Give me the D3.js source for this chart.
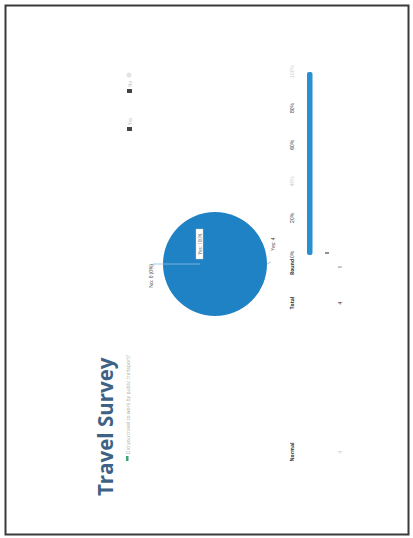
<!DOCTYPE html>
<html>
<head>
<meta charset="utf-8">
<script src="https://cdn.jsdelivr.net/npm/d3@7"></script>
<style>
  body { margin: 0; background: #fff; }
  svg { display: block; font-family: "Open Sans", "Noto Sans", sans-serif; }
</style>
</head>
<body>
<div id="chart"></div>
<script>
// data
const title = 'Travel Survey';
const subtitle = 'Did you travel to work by public transport?';
const pieLabels = ['No', 'Yes'];
const pieValues = [0, 4];
const barCats = ['Yes'];
const barValues = [1.0];
const pctTicks = [0, 0.2, 0.4, 0.6, 0.8, 1];
const tableHeads = ['Normal', 'Total', 'Round'];
const tableVals = ['4', '4', '1'];
const legendItems = ['No', 'Yes'];

const W = 413, H = 538;
const svg = d3.select('#chart').append('svg')
  .attr('width', W).attr('height', H);

// scanned page frame
svg.append('rect')
  .attr('x', 5.5).attr('y', 5.5)
  .attr('width', 403).attr('height', 529)
  .attr('fill', 'none')
  .attr('stroke', '#3a3a3a')
  .attr('stroke-width', 2);

// the page content is landscape, turned a quarter left
const g = svg.append('g')
  .attr('transform', `translate(0,${H}) rotate(-90)`);

// title block
g.append('text')
  .attr('x', 42).attr('y', 113)
  .attr('font-size', 20.5)
  .attr('font-weight', 700)
  .attr('fill', '#3e6285')
  .text(title);

g.append('rect')
  .attr('x', 77).attr('y', 126)
  .attr('width', 5).attr('height', 2.5)
  .attr('fill', '#3aa57a');

g.append('text')
  .attr('x', 84).attr('y', 130)
  .attr('font-size', 5)
  .attr('fill', '#aaa')
  .text(subtitle);

// pie
const cx = 274, cy = 215, r = 52;
const pieG = g.append('g').attr('transform', `translate(${cx},${cy})`);
const arcs = d3.pie().sort(null)(pieValues);
const arc = d3.arc().innerRadius(0).outerRadius(r);

pieG.selectAll('path')
  .data(arcs)
  .join('path')
  .attr('d', arc)
  .attr('fill', '#1f82c5');

// leader from the empty slice up to its label
pieG.append('line')
  .attr('x1', 0).attr('y1', -15)
  .attr('x2', 0).attr('y2', -r - 10)
  .attr('stroke', '#8cc0e4')
  .attr('stroke-width', 0.8);

pieG.append('text')
  .attr('x', -12).attr('y', -r - 10)
  .attr('text-anchor', 'middle')
  .attr('font-size', 5)
  .attr('fill', '#444')
  .text(`${pieLabels[0]}: ${pieValues[0]} (0%)`);

// data label box inside the big slice
const box = pieG.append('g').attr('transform', 'translate(20,-15)');
box.append('rect')
  .attr('x', -15).attr('y', -4)
  .attr('width', 30).attr('height', 7)
  .attr('fill', '#fff')
  .attr('stroke', '#ccc')
  .attr('stroke-width', 0.4);
box.append('text')
  .attr('y', 1.8)
  .attr('text-anchor', 'middle')
  .attr('font-size', 4.5)
  .attr('fill', '#555')
  .text(`${pieLabels[1]}: 100%`);

pieG.append('line')
  .attr('x1', 0).attr('y1', r)
  .attr('x2', 2).attr('y2', r + 4)
  .attr('stroke', '#999')
  .attr('stroke-width', 0.6);
pieG.append('text')
  .attr('x', 20).attr('y', r + 8)
  .attr('text-anchor', 'middle')
  .attr('font-size', 5)
  .attr('fill', '#444')
  .text(`${pieLabels[1]}: ${pieValues[1]}`);

// legend, top right
legendItems.forEach((d, i) => {
  const lx = 445 - i * 38;
  g.append('rect')
    .attr('x', lx).attr('y', 127)
    .attr('width', 4).attr('height', 5)
    .attr('fill', '#444');
  g.append('text')
    .attr('x', lx + 6).attr('y', 131.5)
    .attr('font-size', 4.5)
    .attr('fill', '#bbb')
    .text(d);
});
g.append('circle')
  .attr('cx', 463).attr('cy', 129)
  .attr('r', 2.5)
  .attr('fill', '#e4e4e4');

// bar chart
const x = d3.scaleLinear().domain([0, 1]).range([283, 466]);
const y = d3.scaleBand().domain(barCats).range([306, 317]).padding(0.1);

const axis = g.append('g')
  .attr('transform', 'translate(0,297)')
  .call(d3.axisTop(x).tickValues(pctTicks).tickFormat(d3.format('.0%')).tickSize(0));
axis.select('.domain').remove();
axis.selectAll('text')
  .attr('font-size', 5)
  .attr('fill', (d, i) => (i === 2 || i === 5) ? '#ccc' : '#333');

g.selectAll('.bar')
  .data(barValues)
  .join('rect')
  .attr('class', 'bar')
  .attr('x', x(0))
  .attr('y', (d, i) => y(barCats[i]))
  .attr('width', d => x(d) - x(0))
  .attr('height', 5.5)
  .attr('rx', 2)
  .attr('fill', '#2a8fd0');

g.append('line')
  .attr('x1', 285).attr('x2', 285)
  .attr('y1', 325).attr('y2', 329)
  .attr('stroke', '#222')
  .attr('stroke-width', 1);

// little count table under the charts
const colX = d3.scaleOrdinal().domain(tableHeads).range([86, 235, 271]);
tableHeads.forEach((h, i) => {
  g.append('text')
    .attr('x', colX(h)).attr('y', 294)
    .attr('text-anchor', 'middle')
    .attr('font-size', 5)
    .attr('font-weight', 700)
    .attr('fill', '#333')
    .text(h);
  g.append('text')
    .attr('x', colX(h)).attr('y', 342)
    .attr('text-anchor', 'middle')
    .attr('font-size', 5)
    .attr('fill', i === 0 ? '#ccc' : '#333')
    .text(tableVals[i]);
});
</script>
</body>
</html>
